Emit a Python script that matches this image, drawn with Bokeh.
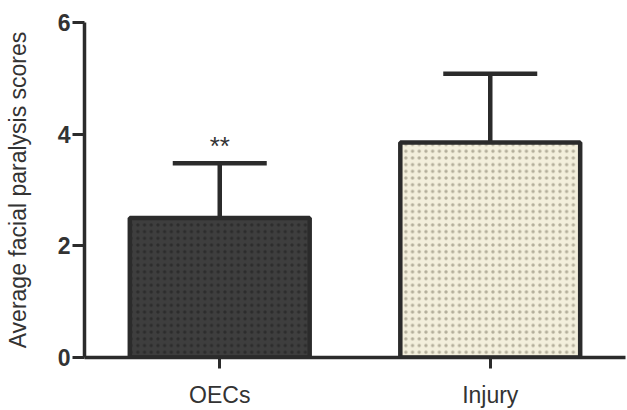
from bokeh.plotting import figure
from bokeh.models import (ColumnDataSource, FactorRange, Range1d, FixedTicker,
                          Whisker, TeeHead)
from bokeh.core.properties import value
from bokeh.embed import file_html
from bokeh.resources import INLINE

categories = ["OECs", "Injury"]
means = [2.50, 3.85]
errors = [0.98, 1.23]
fills = ["#3e3e3e", "#f3efdc"]
hatches = ["#2c2c2c", "#b3ae9a"]
annotations = ["**", ""]
y_ticks = [0, 2, 4, 6]
y_title = "Average facial paralysis scores"

upper = [m + e for m, e in zip(means, errors)]
src = ColumnDataSource(dict(cat=categories, mean=means, upper=upper,
                            fill=fills, hatch=hatches, ann=annotations))

p = figure(x_range=FactorRange(factors=categories, range_padding=0),
           y_range=Range1d(0, 6),
           width=627, height=410, output_backend="svg", toolbar_location=None,
           min_border_left=84, min_border_right=2, min_border_top=22, min_border_bottom=51)
p.outline_line_color = None
p.xgrid.visible = False
p.ygrid.visible = False
p.background_fill_color = "white"
p.border_fill_color = "white"

p.vbar(x="cat", top="mean", bottom=0, width=0.665, source=src,
       fill_color="fill", line_color="#2b2b2b", line_width=4.5,
       hatch_pattern="dot", hatch_color="hatch", hatch_scale=6.7, hatch_weight=2.4)

whisk = Whisker(base="cat", lower="mean", upper="upper", source=src,
                line_color="#2b2b2b", line_width=4.5,
                upper_head=TeeHead(size=94, line_color="#2b2b2b", line_width=4.5),
                lower_head=None)
p.add_layout(whisk)

p.text(x="cat", y="upper", text="ann", source=src, text_align="center",
       text_baseline="alphabetic", y_offset=-17, text_font=value("Liberation Sans"),
       text_font_size="26px", text_color="#333333")

ax = p.yaxis[0]
ax.ticker = FixedTicker(ticks=y_ticks)
ax.axis_label = y_title
ax.axis_label_text_font = "Liberation Sans"
ax.axis_label_text_font_size = "23px"
ax.axis_label_text_font_style = "normal"
ax.axis_label_text_color = "#333333"
ax.axis_label_standoff = 24
ax.major_label_text_font = "Liberation Sans"
ax.major_label_text_font_size = "23px"
ax.major_label_text_font_style = "bold"
ax.major_label_text_color = "#333333"
ax.major_label_standoff = 2
ax.axis_line_color = "#2b2b2b"
ax.axis_line_width = 3.5
ax.major_tick_line_color = "#2b2b2b"
ax.major_tick_line_width = 3
ax.major_tick_out = 12
ax.major_tick_in = 0
ax.minor_tick_line_color = None

bx = p.xaxis[0]
bx.major_label_text_font = "Liberation Sans"
bx.major_label_text_font_size = "23px"
bx.major_label_text_color = "#333333"
bx.major_label_standoff = 13
bx.axis_line_color = "#2b2b2b"
bx.axis_line_width = 3.5
bx.major_tick_line_color = "#2b2b2b"
bx.major_tick_line_width = 3
bx.major_tick_out = 11
bx.major_tick_in = 0
bx.minor_tick_line_color = None

open("out.html", "w").write(file_html(p, INLINE))
